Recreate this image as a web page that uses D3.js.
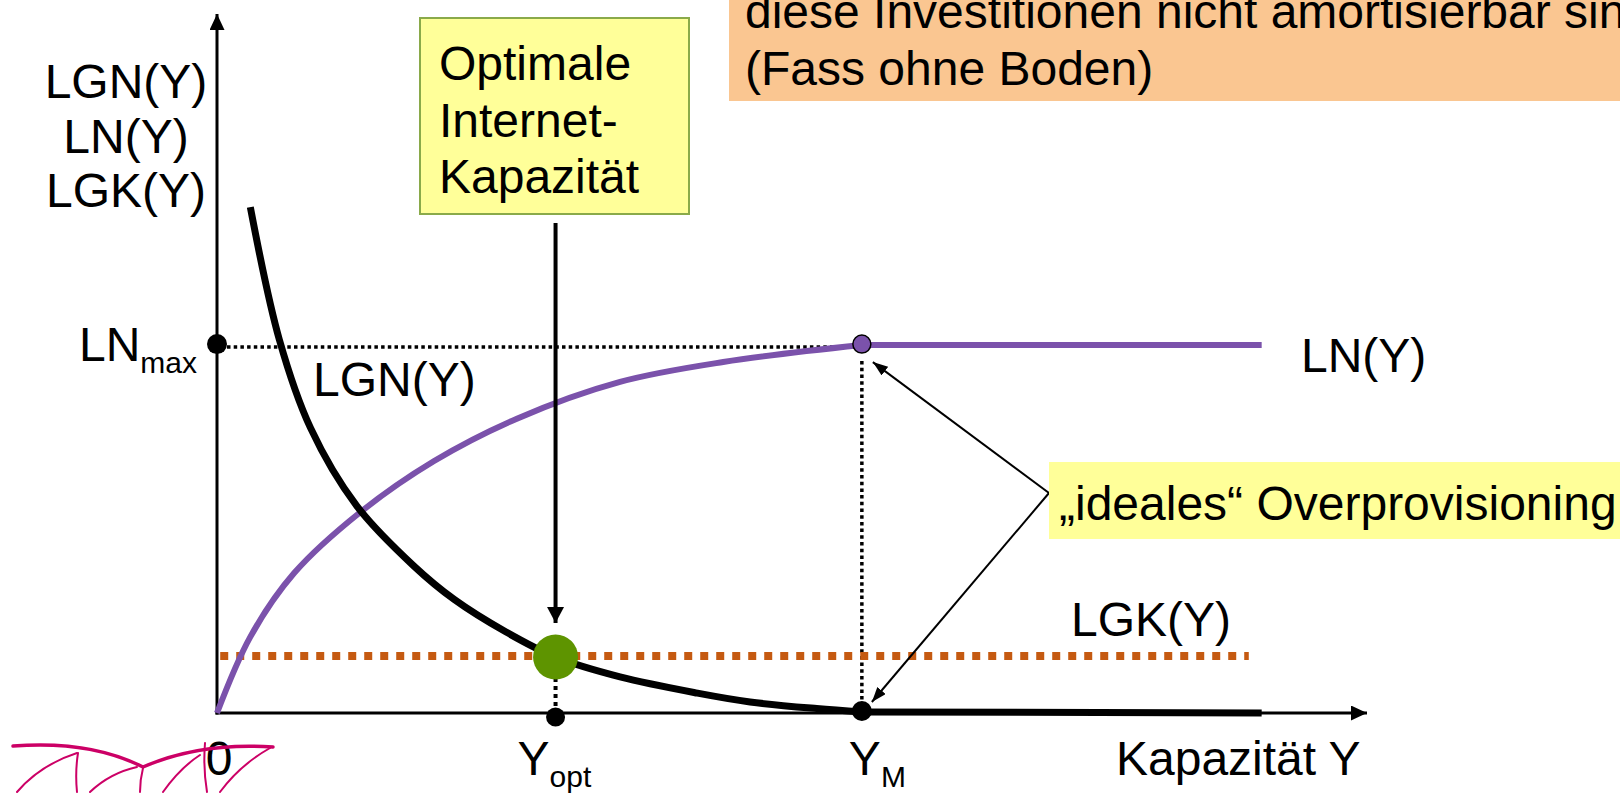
<!DOCTYPE html>
<html>
<head>
<meta charset="utf-8">
<script src="https://cdn.jsdelivr.net/npm/d3@7"></script>
<style>
  body { margin: 0; background: #fff; }
  text { font-family: "Liberation Sans", Arial, sans-serif; fill: #000; }
</style>
</head>
<body>
<div id="container"></div>
<script>
/* CONSTANTS AND GLOBALS */
const width = 1620, height = 793;

// capacity Y on x, values on y (arbitrary units)
const lnX  = [0, 0.31, 0.72, 1.33, 2.02, 2.79, 3.75, 4.71, 6.0, 9.72];
const lnY  = [0, 2.07, 3.81, 5.45, 6.85, 8.00, 9.00, 9.54, 10, 10];
const lgnX = [0.31, 0.58, 0.87, 1.30, 1.83, 2.21, 2.69, 3.15, 3.75, 4.47, 4.96, 5.58, 6.0, 9.72];
const lgnY = [13.75, 10.15, 7.75, 5.63, 4.00, 3.08, 2.20, 1.52, 0.98, 0.54, 0.30, 0.12, 0.03, 0];
const lgkX = [0.03, 9.6];
const lgkLevel = 1.55;
const yOpt = 3.15, yM = 6.0, lnMax = 10;

const yAxisLabels = ["LGN(Y)", "LN(Y)", "LGK(Y)"];
const boxLines = ["Optimale", "Internet-", "Kapazität"];
const noteLines = ["diese Investitionen nicht amortisierbar sind", "(Fass ohne Boden)"];

const purple = "#7b52ab", orange = "#c55a11", green = "#5e9400";
const fs = 48;

const svg = d3.select("#container")
  .append("svg")
  .attr("width", width)
  .attr("height", height)
  .style("background-color", "white");

// SCALES
const x = d3.scaleLinear().domain([0, 10.7]).range([217, 1367]);
const y = d3.scaleLinear().domain([0, 19]).range([713, 14]);

// ARROW MARKERS
const defs = svg.append("defs");
function marker(id, len, wid) {
  defs.append("marker")
    .attr("id", id)
    .attr("markerUnits", "userSpaceOnUse")
    .attr("markerWidth", len + 2)
    .attr("markerHeight", wid + 2)
    .attr("refX", len)
    .attr("refY", wid / 2)
    .attr("orient", "auto")
    .append("path")
    .attr("d", `M0,0L${len},${wid / 2}L0,${wid}Z`)
    .attr("fill", "#000");
}
marker("axisArrow", 16, 15);
marker("bigArrow", 16, 17);
marker("smallArrow", 15, 11);

// AXES (no ticks, just arrows)
svg.append("line")
  .attr("x1", x(0)).attr("y1", y(0) + 1.5)
  .attr("x2", x(0)).attr("y2", y(19))
  .attr("stroke", "#000").attr("stroke-width", 3)
  .attr("marker-end", "url(#axisArrow)");

svg.append("line")
  .attr("x1", x(0) - 1.5).attr("y1", y(0))
  .attr("x2", x(10.7)).attr("y2", y(0))
  .attr("stroke", "#000").attr("stroke-width", 3)
  .attr("marker-end", "url(#axisArrow)");

// DOTTED HELPER LINES
const dotted = svg.append("g")
  .attr("stroke", "#000")
  .attr("stroke-width", 3.5)
  .attr("stroke-dasharray", "3.5,3.2");

dotted.append("line")
  .attr("x1", x(0) + 10).attr("y1", y(lnMax) + 2)
  .attr("x2", x(yM) - 10).attr("y2", y(lnMax) + 2);

dotted.append("line")
  .attr("x1", x(yM)).attr("y1", y(lnMax) + 16)
  .attr("x2", x(yM)).attr("y2", y(0) - 10);

dotted.append("line")
  .attr("x1", x(yOpt)).attr("y1", y(lgkLevel) + 22)
  .attr("x2", x(yOpt)).attr("y2", y(0) - 6)
  .attr("stroke-width", 4)
  .attr("stroke-dasharray", "4,4");

// LGK(Y) dashed orange level
svg.append("line")
  .attr("x1", x(lgkX[0])).attr("y1", y(lgkLevel))
  .attr("x2", x(lgkX[1])).attr("y2", y(lgkLevel))
  .attr("stroke", orange)
  .attr("stroke-width", 8)
  .attr("stroke-dasharray", "8,8");

// CURVES: smooth part up to Y_M, then straight
const smooth = d3.line()
  .x(d => x(d[0]))
  .y(d => y(d[1]))
  .curve(d3.curveCatmullRom.alpha(0.5));
const straight = d3.line()
  .x(d => x(d[0]))
  .y(d => y(d[1]));

function drawCurve(xs, ys, color, w) {
  const pts = d3.zip(xs, ys);
  const bend = pts.filter(d => d[0] <= yM);
  const flat = pts.filter(d => d[0] >= yM);
  [smooth(bend), straight(flat)].forEach(d => {
    svg.append("path")
      .attr("d", d)
      .attr("fill", "none")
      .attr("stroke", color)
      .attr("stroke-width", w)
      .attr("stroke-linejoin", "round");
  });
}
drawCurve(lnX, lnY, purple, 6);
drawCurve(lgnX, lgnY, "#000", 7);

// POINTS
svg.append("circle")
  .attr("cx", x(0)).attr("cy", y(lnMax) - 1).attr("r", 10).attr("fill", "#000");
svg.append("circle")
  .attr("cx", x(yM)).attr("cy", y(0) - 2).attr("r", 10).attr("fill", "#000");
svg.append("circle")
  .attr("cx", x(yOpt)).attr("cy", y(0) + 4).attr("r", 9.5).attr("fill", "#000");
svg.append("circle")
  .attr("cx", x(yM)).attr("cy", y(lnMax) - 1).attr("r", 9)
  .attr("fill", purple).attr("stroke", "#000").attr("stroke-width", 1.5);
svg.append("circle")
  .attr("cx", x(yOpt)).attr("cy", y(lgkLevel) + 1).attr("r", 22.5).attr("fill", green);

// ANNOTATION ARROWS
svg.append("line")
  .attr("x1", x(yOpt)).attr("y1", 223)
  .attr("x2", x(yOpt)).attr("y2", y(lgkLevel) - 33)
  .attr("stroke", "#000").attr("stroke-width", 4)
  .attr("marker-end", "url(#bigArrow)");

const fork = [1049, 493];
svg.append("line")
  .attr("x1", fork[0]).attr("y1", fork[1])
  .attr("x2", x(yM) + 11).attr("y2", y(lnMax) + 17)
  .attr("stroke", "#000").attr("stroke-width", 2)
  .attr("marker-end", "url(#smallArrow)");
svg.append("line")
  .attr("x1", fork[0]).attr("y1", fork[1])
  .attr("x2", x(yM) + 10).attr("y2", y(0) - 11)
  .attr("stroke", "#000").attr("stroke-width", 2)
  .attr("marker-end", "url(#smallArrow)");

// TEXT BOXES
svg.append("rect")
  .attr("x", 420).attr("y", 18).attr("width", 269).attr("height", 196)
  .attr("fill", "#ffff99").attr("stroke", "#8aaa4a").attr("stroke-width", 2);
svg.append("g").selectAll("text")
  .data(boxLines)
  .join("text")
  .attr("x", 439)
  .attr("y", (d, i) => 80 + i * 56.5)
  .attr("font-size", fs)
  .text(d => d);

svg.append("rect")
  .attr("x", 729).attr("y", -10).attr("width", 900).attr("height", 111)
  .attr("fill", "#fac691");
svg.append("g").selectAll("text")
  .data(noteLines)
  .join("text")
  .attr("x", 745)
  .attr("y", (d, i) => 28 + i * 57)
  .attr("font-size", fs)
  .text(d => d);

svg.append("rect")
  .attr("x", 1049).attr("y", 462).attr("width", 580).attr("height", 77)
  .attr("fill", "#ffff99");
svg.append("text")
  .attr("x", 1059).attr("y", 520)
  .attr("font-size", fs)
  .text("\u201Eideales\u201C Overprovisioning");

// AXIS TITLES AND LABELS
svg.append("g").selectAll("text")
  .data(yAxisLabels)
  .join("text")
  .attr("x", 126)
  .attr("y", (d, i) => 98 + i * 54.5)
  .attr("text-anchor", "middle")
  .attr("font-size", fs)
  .text(d => d);

const lnMaxLabel = svg.append("text")
  .attr("x", 197).attr("y", 361)
  .attr("text-anchor", "end")
  .attr("font-size", fs);
lnMaxLabel.append("tspan").text("LN");
lnMaxLabel.append("tspan").attr("dy", 12).attr("font-size", 30).text("max");

svg.append("text")
  .attr("x", 313).attr("y", 396)
  .attr("font-size", fs)
  .text("LGN(Y)");

svg.append("text")
  .attr("x", 1301).attr("y", 372)
  .attr("font-size", fs)
  .text("LN(Y)");

svg.append("text")
  .attr("x", 1071).attr("y", 636)
  .attr("font-size", fs)
  .text("LGK(Y)");

svg.append("text")
  .attr("x", x(0) + 2).attr("y", 775)
  .attr("text-anchor", "middle")
  .attr("font-size", fs)
  .text("0");

const yOptLabel = svg.append("text")
  .attr("x", x(yOpt) - 38).attr("y", 775)
  .attr("font-size", fs);
yOptLabel.append("tspan").text("Y");
yOptLabel.append("tspan").attr("dy", 12).attr("font-size", 30).text("opt");

const yMLabel = svg.append("text")
  .attr("x", x(yM) - 13).attr("y", 775)
  .attr("font-size", fs);
yMLabel.append("tspan").text("Y");
yMLabel.append("tspan").attr("dy", 12).attr("font-size", 30).text("M");

svg.append("text")
  .attr("x", 1116).attr("y", 775)
  .attr("font-size", fs)
  .text("Kapazität Y");

// little decorative logo bottom-left
const logo = svg.append("g")
  .attr("fill", "none")
  .attr("stroke", "#cc0066")
  .attr("stroke-linecap", "round");
logo.append("path").attr("stroke-width", 3.5)
  .attr("d", "M13,746 Q90,740 143,767 Q200,742 273,747");
[
  "M17,792 Q40,765 77,753",
  "M90,792 Q110,773 137,767",
  "M163,792 Q180,768 200,755",
  "M220,792 Q240,765 270,748",
  "M78,753 Q75,772 77,792",
  "M143,768 Q140,780 140,792",
  "M205,743 Q203,768 207,792"
].forEach(d => logo.append("path").attr("stroke-width", 2).attr("d", d));
</script>
</body>
</html>
